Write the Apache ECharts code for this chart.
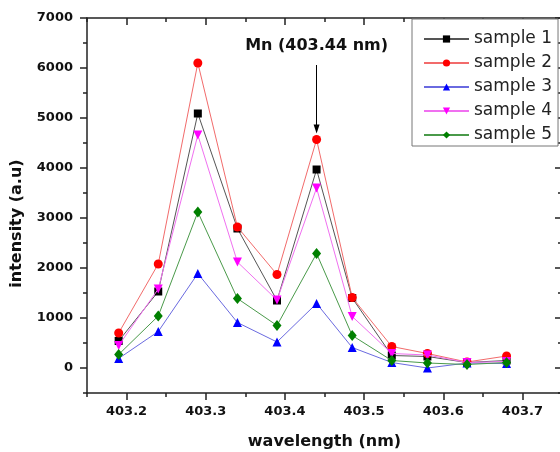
<!DOCTYPE html>
<html>
<head>
<meta charset="utf-8">
<script src="https://cdn.jsdelivr.net/npm/echarts@6/dist/echarts.min.js"></script>
<style>
html,body{margin:0;padding:0;background:#fff;}
#chart{width:560px;height:452px;}
</style>
</head>
<body>
<div id="chart"></div>
<script>
var wavelengths = [403.19, 403.24, 403.29, 403.34, 403.39, 403.44, 403.485, 403.535, 403.58, 403.63, 403.68];
var sample1 = [540, 1530, 5090, 2790, 1350, 3970, 1400, 250, 230, 110, 150];
var sample2 = [700, 2080, 6100, 2820, 1870, 4570, 1410, 430, 290, 120, 240];
var sample3 = [190, 730, 1890, 910, 520, 1290, 410, 110, 0, 100, 90];
var sample4 = [450, 1580, 4660, 2120, 1360, 3600, 1030, 290, 260, 110, 130];
var sample5 = [270, 1040, 3120, 1390, 850, 2290, 650, 150, 100, 70, 110];
var seriesNames = ['sample 1', 'sample 2', 'sample 3', 'sample 4', 'sample 5'];
var xMajorTicks = [403.2, 403.3, 403.4, 403.5, 403.6, 403.7];
var xMinorTicks = [403.15, 403.25, 403.35, 403.45, 403.55, 403.65, 403.75];
var yMajorTicks = [0, 1000, 2000, 3000, 4000, 5000, 6000, 7000];
var yMinorTicks = [-500, 500, 1500, 2500, 3500, 4500, 5500, 6500];
var annotationText = 'Mn (403.44 nm)';
var annotationX = 403.44;
var arrowFrom = 6060;
var arrowTo = 4780;

var FONT = '"DejaVu Sans", Arial, sans-serif';
var markerColors = ['#000000', '#ff0000', '#0000ff', '#ff00ff', '#008000'];
var lineColors = ['#555555', '#f26b6b', '#6a6ae0', '#f070f0', '#4a9a4a'];
var symbols = ['rect', 'circle', 'triangle', 'path://M0,0 L10,0 L5,10 Z', 'diamond'];
var sizes = [8, 9, 9, 9, [9, 11]];
var allData = [sample1, sample2, sample3, sample4, sample5];

function pairs(vals) {
  return vals.map(function (v, i) { return [wavelengths[i], v]; });
}

var series = allData.map(function (vals, i) {
  return {
    name: seriesNames[i],
    type: 'line',
    data: pairs(vals),
    symbol: symbols[i],
    symbolSize: sizes[i],
    showAllSymbol: true,
    lineStyle: { color: lineColors[i], width: 1 },
    itemStyle: { color: markerColors[i] },
    emphasis: { disabled: true },
    z: 2 + i
  };
});
series[0].markLine = {
  silent: true,
  symbol: ['none', 'triangle'],
  symbolSize: [6, 9],
  symbolRotate: 180,
  lineStyle: { color: '#000', width: 1, type: 'solid' },
  label: {
    show: true,
    position: 'start',
    distance: 11,
    formatter: annotationText,
    color: '#111',
    fontFamily: FONT,
    fontWeight: 'bold',
    fontSize: 16
  },
  data: [[{ coord: [annotationX, arrowFrom] }, { coord: [annotationX, arrowTo] }]]
};

var axisLineStyle = { color: '#222', width: 1.5 };
var xCommon = { type: 'value', min: 403.15, max: 403.75, interval: 0.05, splitLine: { show: false } };
var yCommon = { type: 'value', min: -500, max: 7000, interval: 500, splitLine: { show: false } };

var option = {
  animation: false,
  backgroundColor: '#fff',
  grid: { left: 87, top: 18, width: 475, bottom: 59, containLabel: false, outerBoundsMode: 'none' },
  legend: {
    left: 412,
    top: 19,
    orient: 'vertical',
    data: seriesNames,
    itemWidth: 45,
    itemHeight: 9,
    itemGap: 6,
    padding: [11, 6, 2, 11],
    backgroundColor: '#fff',
    borderColor: '#777',
    borderWidth: 1,
    borderRadius: 0,
    textStyle: { fontFamily: FONT, fontSize: 17, color: '#222', lineHeight: 18 }
  },
  xAxis: [
    Object.assign({}, xCommon, {
      position: 'bottom',
      name: 'wavelength (nm)',
      nameLocation: 'middle',
      nameGap: 41,
      nameTextStyle: { fontFamily: FONT, fontWeight: 'bold', fontSize: 16, color: '#111' },
      axisLine: { show: true, onZero: false, lineStyle: axisLineStyle },
      axisTick: { show: true, inside: false, length: 7, customValues: xMajorTicks, lineStyle: axisLineStyle },
      axisLabel: {
        show: true, margin: 12, customValues: xMajorTicks,
        fontFamily: FONT, fontWeight: 'bold', fontSize: 13, color: '#111',
        formatter: function (v) { return Number(v).toFixed(1); }
      }
    }),
    Object.assign({}, xCommon, {
      position: 'bottom',
      axisLine: { show: false, onZero: false },
      axisTick: { show: true, inside: false, length: 4, customValues: xMinorTicks, lineStyle: axisLineStyle },
      axisLabel: { show: false }
    }),
    Object.assign({}, xCommon, {
      position: 'top',
      axisLine: { show: true, onZero: false, lineStyle: axisLineStyle },
      axisTick: { show: true, inside: true, length: 7, customValues: xMajorTicks, lineStyle: axisLineStyle },
      axisLabel: { show: false }
    }),
    Object.assign({}, xCommon, {
      position: 'top',
      axisLine: { show: false, onZero: false },
      axisTick: { show: true, inside: true, length: 4, customValues: xMinorTicks, lineStyle: axisLineStyle },
      axisLabel: { show: false }
    })
  ],
  yAxis: [
    Object.assign({}, yCommon, {
      position: 'left',
      name: 'intensity (a.u)',
      nameLocation: 'middle',
      nameGap: 62,
      nameRotate: 90,
      nameTextStyle: { fontFamily: FONT, fontWeight: 'bold', fontSize: 16, color: '#111', padding: [0, 36, 0, 0] },
      axisLine: { show: true, onZero: false, lineStyle: axisLineStyle },
      axisTick: { show: true, inside: false, length: 7, customValues: yMajorTicks, lineStyle: axisLineStyle },
      axisLabel: {
        show: true, margin: 14, customValues: yMajorTicks,
        fontFamily: FONT, fontWeight: 'bold', fontSize: 13, color: '#111',
        formatter: function (v) { return String(Math.round(v)); }
      }
    }),
    Object.assign({}, yCommon, {
      position: 'left',
      offset: 0,
      axisLine: { show: false, onZero: false },
      axisTick: { show: true, inside: false, length: 4, customValues: yMinorTicks, lineStyle: axisLineStyle },
      axisLabel: { show: false }
    }),
    Object.assign({}, yCommon, {
      position: 'right',
      offset: 0,
      axisLine: { show: false, onZero: false },
      axisTick: { show: true, inside: true, length: 7, customValues: yMajorTicks, lineStyle: axisLineStyle },
      axisLabel: { show: false }
    }),
    Object.assign({}, yCommon, {
      position: 'right',
      offset: 0,
      axisLine: { show: false, onZero: false },
      axisTick: { show: true, inside: true, length: 4, customValues: yMinorTicks, lineStyle: axisLineStyle },
      axisLabel: { show: false }
    })
  ],
  series: series
};

var chart = echarts.init(document.getElementById('chart'), null, { renderer: 'canvas' });
chart.setOption(option);
</script>
</body>
</html>
